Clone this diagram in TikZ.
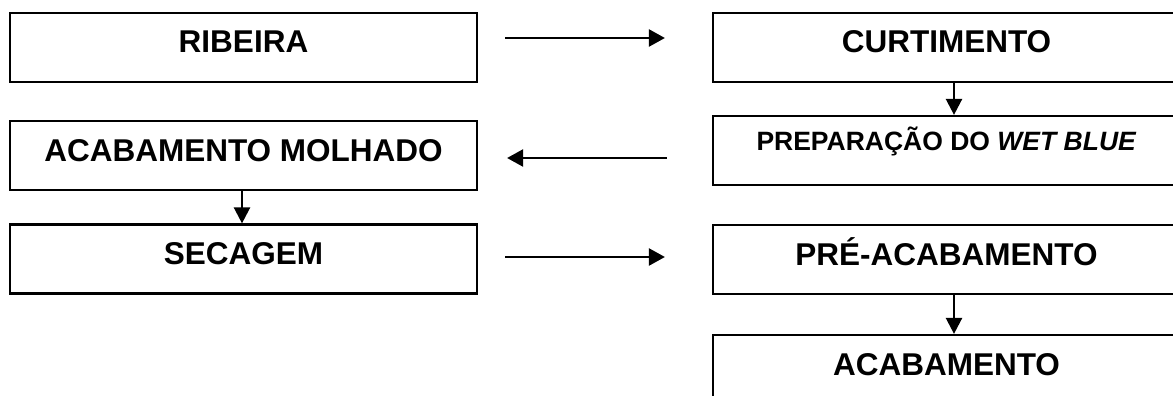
\documentclass[tikz,border=0pt]{standalone}
\usepackage{fontspec}
\setmainfont{Liberation Sans}
\usetikzlibrary{arrows.meta}
\tikzset{
  stagebox/.style={draw=black, line width=2.2pt, rectangle,
    minimum width=467pt, minimum height=69pt, inner xsep=0pt, inner ysep=0pt,
    text height=40pt, text depth=29pt,
    font=\fontsize{31.5}{36}\selectfont\bfseries},
  smallbox/.style={stagebox, text height=34pt, text depth=35pt,
    font=\fontsize{26.5}{30}\selectfont\bfseries},
  flow/.style={line width=2.4pt, -{Triangle[length=16pt,width=17pt]}},
  downflow/.style={line width=2.4pt, -{Triangle[length=16pt,width=16pt]}}
}
\begin{document}
\begin{tikzpicture}[x=1pt, y=-1pt]
  \useasboundingbox (0,0) rectangle (1173,396);
  \clip (0,0) rectangle (1173,396);

  % left column
  \node[stagebox] (rib) at (243.5,47.5)  {RIBEIRA};
  \node[stagebox] (mol) at (243.5,155.5) {ACABAMENTO MOLHADO};
  \node[stagebox] (sec) at (243.5,259)   {SECAGEM};

  % right column
  \node[stagebox] (cur)  at (946.5,47.5)  {CURTIMENTO};
  \node[smallbox] (prep) at (946.5,150.5) {PREPARAÇÃO DO \textit{WET BLUE}};
  \node[stagebox] (pre)  at (946.5,259.5) {PRÉ-ACABAMENTO};
  \node[stagebox] (aca)  at (946.5,369.5) {ACABAMENTO};

  % horizontal transfers between the columns
  \draw[flow, shorten <=27pt, shorten >=47pt]
    ([yshift=9.5pt]rib.east) -- ([yshift=9.5pt]rib.east -| cur.west);
  \draw[flow, shorten <=45pt, shorten >=29pt]
    ([yshift=-7.5pt]prep.west) -- ([yshift=-7.5pt]prep.west -| mol.east);
  \draw[flow, shorten <=27pt, shorten >=47pt]
    ([yshift=2pt]sec.east) -- ([yshift=2pt]sec.east -| pre.west);

  % vertical steps within a column
  \draw[downflow] ([xshift=7.5pt]cur.south) -- ([xshift=7.5pt]prep.north);
  \draw[downflow] ([xshift=-1.5pt]mol.south) -- ([xshift=-1.5pt]sec.north);
  \draw[downflow] ([xshift=7.5pt]pre.south) -- ([xshift=7.5pt]aca.north);
\end{tikzpicture}
\end{document}
